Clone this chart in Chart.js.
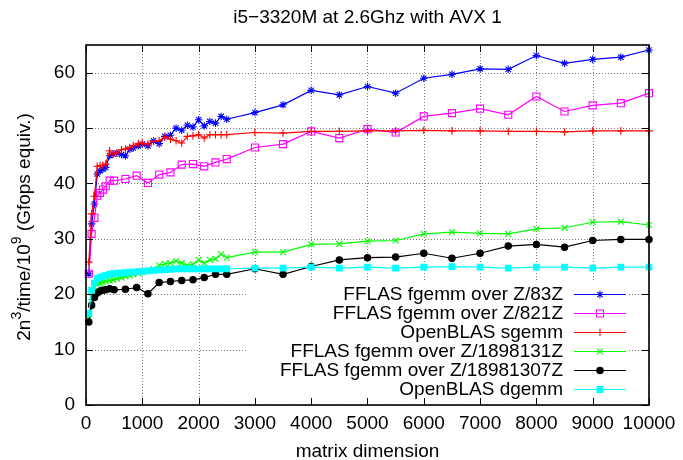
<!DOCTYPE html>
<html>
<head>
<meta charset="utf-8">
<script src="https://cdn.jsdelivr.net/npm/chart.js@4/dist/chart.umd.min.js"></script>
<style>
  html, body { margin: 0; padding: 0; background: #fff; }
  #wrap { width: 683px; height: 460px; }
</style>
</head>
<body>
<div id="wrap"><canvas id="c" width="683" height="460"></canvas></div>
<script>
// ---------- data ----------
const xDense = [50,100,150,200,250,300,350,420,480,550,630,700,780,840,930,
  1000,1100,1200,1300,1400,1500,1600,1700,1800,1900,2000,2100,2200,2300,2400,2500,
  3000,3500,4000,4500,5000,5500,6000,6500,7000,7500,8000,8500,9000,9500,10000];
const xSparse = [50,100,150,200,250,300,350,420,500,
  700,900,1100,1300,1500,1700,1900,2100,2300,2500,
  3000,3500,4000,4500,5000,5500,6000,6500,7000,7500,8000,8500,9000,9500,10000];

const z83 = [23.7,32.7,36.3,41.7,42.3,42.6,42.9,45.0,45.3,45.5,45.2,45.0,46.2,46.4,46.8,
  47.1,46.8,47.7,47.2,48.5,48.7,50.0,49.6,50.5,50.2,51.5,50.4,51.2,50.9,52.1,51.6,
  52.8,54.2,56.8,56.0,57.5,56.3,59.0,59.7,60.7,60.6,63.1,61.7,62.4,62.8,64.1];
const z821 = [23.7,30.9,33.8,37.8,38.3,38.9,39.5,40.5,40.5,
  40.8,41.4,40.1,41.6,42.0,43.4,43.5,43.1,43.8,44.4,
  46.5,47.1,49.4,48.2,49.8,49.2,52.1,52.7,53.5,52.4,55.7,53.0,54.1,54.5,56.3];
const sgemm = [25.8,34.5,37.7,43.1,43.2,43.3,43.5,45.9,45.3,45.5,46.1,46.2,46.5,46.8,47.2,
  47.3,47.1,47.6,47.7,48.4,48.0,47.7,47.3,48.5,48.6,48.8,48.2,48.8,48.8,48.8,48.8,
  49.2,49.1,49.4,49.4,49.5,49.5,49.6,49.5,49.5,49.4,49.4,49.3,49.5,49.5,49.5];
const z1898131 = [15.5,19.5,21.3,21.8,22.0,22.2,22.3,22.5,22.6,22.8,23.0,23.2,23.4,23.6,23.8,
  24.0,24.2,24.6,25.2,25.5,25.6,26.0,25.6,25.2,25.4,26.2,25.6,26.2,26.4,27.2,26.6,
  27.6,27.6,29.0,29.1,29.6,29.7,30.9,31.2,31.0,30.9,31.8,32.0,33.0,33.1,32.5];
const z18981307 = [15.0,18.0,19.4,20.2,20.6,20.7,20.8,21.0,20.8,
  20.9,21.2,20.1,22.1,22.3,22.5,22.6,23.0,23.6,23.6,
  24.6,23.6,25.0,26.2,26.6,26.7,27.4,26.5,27.4,28.7,29.0,28.5,29.7,29.9,29.9];
const dgemm = [16.5,20.7,22.0,22.8,23.1,23.2,23.4,23.6,23.7,23.8,23.8,23.9,24.0,24.0,24.1,
  24.1,24.2,24.3,24.4,24.4,24.5,24.6,24.6,24.6,24.6,24.6,24.6,24.6,24.6,24.6,24.6,
  24.7,24.7,24.9,24.7,24.9,24.7,24.9,25.0,24.9,24.7,24.9,24.9,24.7,24.9,24.9];

const seriesNames = ['FFLAS fgemm over Z/83Z','FFLAS fgemm over Z/821Z','OpenBLAS sgemm',
  'FFLAS fgemm over Z/1898131Z','FFLAS fgemm over Z/18981307Z','OpenBLAS dgemm'];
const xTicks = [0,1000,2000,3000,4000,5000,6000,7000,8000,9000,10000];
const yTicks = [0,10,20,30,40,50,60];
const titleText = 'i5\u22123320M at 2.6Ghz with AVX 1';
const xTitle = 'matrix dimension';
// y title pieces: [text, superscript?]
const yTitleParts = [['2n', false], ['3', true], ['/time/10', false], ['9', true], [' (Gfops equiv.)', false]];

// ---------- styling ----------
const FONT = '"Liberation Sans", Arial, Helvetica, sans-serif';
const FS = 19;
const styles = [
  {color:'#0000ff', point:'star',     r:3.8, fill:'#0000ff'},
  {color:'#ff00ff', point:'rect',     r:5.0, fill:'rgba(0,0,0,0)'},
  {color:'#ff0000', point:'cross',    r:3.8, fill:'#ff0000'},
  {color:'#00ff00', point:'crossRot', r:4.2, fill:'#00ff00'},
  {color:'#000000', point:'circle',   r:3.2, fill:'#000000'},
  {color:'#00ffff', point:'rect',     r:4.0, fill:'#00ffff'}
];
const seriesX = [xDense, xSparse, xDense, xDense, xSparse, xDense];
const seriesY = [z83, z821, sgemm, z1898131, z18981307, dgemm];

const datasets = seriesY.map((ys, i) => ({
  label: seriesNames[i],
  data: ys.map((v, k) => ({x: seriesX[i][k], y: v})),
  borderColor: styles[i].color,
  backgroundColor: styles[i].fill,
  pointBorderColor: styles[i].color,
  pointBackgroundColor: styles[i].fill,
  pointStyle: styles[i].point,
  pointRadius: styles[i].r,
  pointHoverRadius: styles[i].r,
  pointBorderWidth: 1.1,
  borderWidth: 1.2,
  tension: 0,
  fill: false,
  clip: false,
  order: seriesY.length - i
}));

function marker(ctx, style, r, x, y, fill, stroke, bw) {
  ctx.save();
  ctx.lineWidth = bw; ctx.strokeStyle = stroke; ctx.fillStyle = fill; ctx.setLineDash([]);
  ctx.beginPath();
  const d = r * Math.SQRT1_2;
  if (style === 'circle') { ctx.arc(x, y, r, 0, 2*Math.PI); ctx.fill(); ctx.stroke(); }
  else if (style === 'rect') { ctx.rect(x-d, y-d, 2*d, 2*d); ctx.fill(); ctx.stroke(); }
  else {
    if (style === 'cross' || style === 'star') {
      ctx.moveTo(x-r, y); ctx.lineTo(x+r, y); ctx.moveTo(x, y-r); ctx.lineTo(x, y+r);
    }
    if (style === 'crossRot' || style === 'star') {
      ctx.moveTo(x-d, y-d); ctx.lineTo(x+d, y+d); ctx.moveTo(x-d, y+d); ctx.lineTo(x+d, y-d);
    }
    ctx.stroke();
  }
  ctx.restore();
}

const frame = {
  id: 'frame',
  beforeDatasetsDraw(chart) {
    const {ctx, chartArea: a, scales: {x, y}} = chart;
    ctx.save();
    ctx.strokeStyle = '#7a7a7a'; ctx.lineWidth = 1; ctx.setLineDash([1, 2]);
    x.ticks.forEach(t => {
      const px = Math.round(x.getPixelForValue(t.value)) + 0.5;
      ctx.beginPath(); ctx.moveTo(px, a.top); ctx.lineTo(px, a.bottom); ctx.stroke();
    });
    y.ticks.forEach(t => {
      const py = Math.round(y.getPixelForValue(t.value)) + 0.5;
      ctx.beginPath(); ctx.moveTo(a.left, py); ctx.lineTo(a.right, py); ctx.stroke();
    });
    ctx.restore();
  },
  afterDatasetsDraw(chart) {
    const {ctx, chartArea: a} = chart;
    ctx.save();
    ctx.fillStyle = '#ffffff';
    ctx.fillRect(a.left + 162, a.bottom - 123, a.right - 20 - (a.left + 162), 117);
    ctx.font = FS + 'px ' + FONT;
    ctx.textAlign = 'right'; ctx.textBaseline = 'middle';
    chart.data.datasets.forEach((ds, i) => {
      const yy = a.bottom - 111 + i * 19;
      ctx.fillStyle = '#000';
      ctx.fillText(ds.label, a.right - 86, yy + 1);
      ctx.strokeStyle = ds.borderColor; ctx.lineWidth = 1.2; ctx.setLineDash([]);
      ctx.beginPath(); ctx.moveTo(a.right - 75, yy + 0.5); ctx.lineTo(a.right - 23, yy + 0.5); ctx.stroke();
      marker(ctx, ds.pointStyle, ds.pointRadius, a.right - 49, yy + 0.5, ds.pointBackgroundColor, ds.pointBorderColor, 1.1);
    });
    ctx.restore();
  },
  afterDraw(chart) {
    const {ctx, chartArea: a, scales: {x, y}} = chart;
    ctx.save();
    ctx.strokeStyle = '#000'; ctx.lineWidth = 1; ctx.setLineDash([]);
    const tl = 7;
    x.ticks.forEach(t => {
      const px = Math.round(x.getPixelForValue(t.value)) + 0.5;
      ctx.beginPath(); ctx.moveTo(px, a.bottom); ctx.lineTo(px, a.bottom - tl);
      ctx.moveTo(px, a.top); ctx.lineTo(px, a.top + tl); ctx.stroke();
    });
    y.ticks.forEach(t => {
      const py = Math.round(y.getPixelForValue(t.value)) + 0.5;
      ctx.beginPath(); ctx.moveTo(a.left, py); ctx.lineTo(a.left + tl, py);
      ctx.moveTo(a.right, py); ctx.lineTo(a.right - tl, py); ctx.stroke();
    });
    ctx.lineWidth = 1.6;
    ctx.strokeRect(a.left, a.top, a.right - a.left, a.bottom - a.top);

    // y axis title with real superscripts
    const big = FS + 'px ' + FONT, small = Math.round(FS * 0.72) + 'px ' + FONT;
    let total = 0;
    yTitleParts.forEach(([t, sup]) => { ctx.font = sup ? small : big; total += ctx.measureText(t).width; });
    ctx.translate(23, (a.top + a.bottom) / 2 + 2);
    ctx.rotate(-Math.PI / 2);
    ctx.fillStyle = '#000'; ctx.textBaseline = 'alphabetic'; ctx.textAlign = 'left';
    let cx = -total / 2;
    yTitleParts.forEach(([t, sup]) => {
      ctx.font = sup ? small : big;
      ctx.fillText(t, cx, sup ? -2 : 7);
      cx += ctx.measureText(t).width;
    });
    ctx.restore();
  }
};

new Chart(document.getElementById('c'), {
  type: 'line',
  data: { datasets },
  options: {
    responsive: false,
    animation: false,
    events: [],
    layout: { padding: { left: 0, right: 30, top: 0, bottom: 0 } },
    plugins: {
      legend: { display: false },
      tooltip: { enabled: false },
      title: {
        display: true, text: titleText, fullSize: false, color: '#000',
        font: { family: FONT, size: FS, weight: 'normal', lineHeight: 1.2 },
        padding: { top: 6.6, bottom: 15.6 }
      }
    },
    scales: {
      x: {
        type: 'linear', min: 0, max: 10000,
        afterBuildTicks: s => { s.ticks = xTicks.map(v => ({value: v})); },
        afterFit: s => { s.height = 55; },
        grid: { display: false, drawTicks: false },
        border: { display: false },
        ticks: { color: '#000', padding: 7.6, maxRotation: 0, autoSkip: false,
          callback: v => String(v),
          font: { family: FONT, size: FS, lineHeight: 1.2 } },
        title: { display: true, text: xTitle, color: '#000', padding: { top: 0, bottom: 0 },
          font: { family: FONT, size: FS, lineHeight: 0.85 } }
      },
      y: {
        type: 'linear', min: 0, max: 65,
        afterBuildTicks: s => { s.ticks = yTicks.map(v => ({value: v})); },
        afterFit: s => { s.width = 86; },
        grid: { display: false, drawTicks: false },
        border: { display: false },
        ticks: { color: '#000', padding: 11, autoSkip: false,
          callback: v => String(v),
          font: { family: FONT, size: FS, lineHeight: 1.2 } },
        title: { display: false }
      }
    }
  },
  plugins: [frame]
});
</script>
</body>
</html>
